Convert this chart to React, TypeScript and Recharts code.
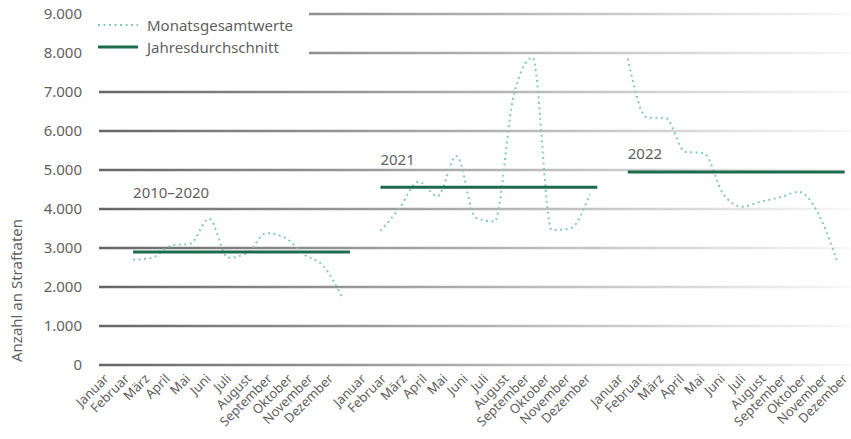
import { Legend, Line, LineChart, CartesianGrid, ReferenceDot, XAxis, YAxis } from "recharts";

const months = ["Januar", "Februar", "März", "April", "Mai", "Juni", "Juli", "August", "September", "Oktober", "November", "Dezember"];
const periods = ["2010–2020", "2021", "2022"];

// monthly totals per period
const monthly2010to2020 = [2700, 2750, 3060, 3110, 3750, 2750, 2870, 3380, 3260, 2830, 2540, 1730];
const monthly2021 = [3440, 4020, 4700, 4330, 5360, 3780, 3680, 6900, 7880, 3460, 3510, 4380];
const monthly2022 = [7860, 6350, 6330, 5470, 5430, 4400, 4060, 4190, 4300, 4440, 3890, 2670];
const yearlyAverages = [2900, 4560, 4950];
const labelLevels = [4280, 5130, 5280];

const yTicks = [0, 1000, 2000, 3000, 4000, 5000, 6000, 7000, 8000, 9000];

const GAP = 1; // empty slot between periods on the data axis
const LABEL_GAP = 0.6; // extra space between periods on the label axis
const AVG_SPAN = 11.4;

const textColor = "#5f5f5f";
const dotted = "#82ccae";
const dark = "#1c6b4b";
const font = "'Noto Sans', sans-serif";

const blocks = [monthly2010to2020, monthly2021, monthly2022].map((values, b) =>
  values.map((v, m) => ({ x: b * (12 + GAP) + m, value: v }))
);
const averages = yearlyAverages.map((v, b) => [
  { x: b * (12 + GAP), value: v },
  { x: b * (12 + GAP) + AVG_SPAN, value: v },
]);
const monthTicks = periods.flatMap((_, b) => months.map((_, m) => b * (12 + LABEL_GAP) + m));
const tickRows = monthTicks.map((x) => ({ x, value: 0 }));

const fmt = (v: number) => v.toLocaleString("de-DE");

function MonthTick(props: any) {
  const { x, y, payload } = props;
  const i = monthTicks.indexOf(payload.value);
  return (
    <text
      x={x}
      y={y}
      dy="0.71em"
      textAnchor="end"
      transform={`rotate(-45, ${x}, ${y})`}
      fill={textColor}
      fontSize={13}
      fontFamily={font}
    >
      {months[i % 12]}
    </text>
  );
}

function LegendBox() {
  return (
    <div style={{ background: "#fff", width: 212, height: 52, fontFamily: font, fontSize: 15, color: textColor }}>
      <div style={{ display: "flex", alignItems: "center", height: 22, paddingTop: 8 }}>
        <svg width={42} height={6}>
          <line x1={1} y1={3} x2={41} y2={3} stroke={dotted} strokeWidth={2} strokeDasharray="2 3.5" />
        </svg>
        <span style={{ marginLeft: 8 }}>Monatsgesamtwerte</span>
      </div>
      <div style={{ display: "flex", alignItems: "center", height: 22 }}>
        <svg width={42} height={6}>
          <line x1={1} y1={3} x2={41} y2={3} stroke={dark} strokeWidth={3} />
        </svg>
        <span style={{ marginLeft: 8 }}>Jahresdurchschnitt</span>
      </div>
    </div>
  );
}

export default function App() {
  return (
    <div style={{ width: 851, height: 439, position: "relative" }}>
      <style>{`body{margin:0}`}</style>
      <LineChart width={851} height={439} margin={{ top: 14, right: 1, left: 0, bottom: 0 }}>
        <defs>
          <linearGradient id="gridFade" gradientUnits="userSpaceOnUse" x1={99} y1={0} x2={850} y2={0}>
            <stop offset="0%" stopColor="#666666" />
            <stop offset="100%" stopColor="#f8f8f8" />
          </linearGradient>
        </defs>
        <CartesianGrid vertical={false} stroke="url(#gridFade)" strokeWidth={2.5} xAxisId="d" />
        <XAxis
          xAxisId="labels"
          type="number"
          dataKey="x"
          domain={[-0.2, 36.6]}
          ticks={monthTicks}
          interval={0}
          height={74}
          axisLine={false}
          tickLine={false}
          tick={<MonthTick />}
          allowDataOverflow
        />
        <XAxis xAxisId="d" type="number" dataKey="x" domain={[-1.79, 37.68]} height={0} hide allowDataOverflow />
        <YAxis
          domain={[0, 9000]}
          ticks={yTicks}
          tickFormatter={fmt}
          width={99}
          axisLine={false}
          tickLine={false}
          tickMargin={11}
          tick={{ fill: textColor, fontSize: 15, fontFamily: font }}
          label={{
            content: () => (
              <text x={22} y={362} transform="rotate(-90, 22, 362)" fill={textColor} fontSize={15} fontFamily={font}>
                Anzahl an Straftaten
              </text>
            ),
          }}
        />
        <Line
          xAxisId="labels"
          data={tickRows}
          dataKey="value"
          stroke="none"
          dot={false}
          activeDot={false}
          isAnimationActive={false}
          legendType="none"
        />
        {blocks.map((data, b) => (
          <Line
            key={`m${b}`}
            xAxisId="d"
            data={data}
            dataKey="value"
            type="monotone"
            stroke={dotted}
            strokeWidth={2}
            strokeDasharray="2 3.5"
            dot={false}
            activeDot={false}
            isAnimationActive={false}
            legendType="none"
          />
        ))}
        {averages.map((data, b) => (
          <Line
            key={`a${b}`}
            xAxisId="d"
            data={data}
            dataKey="value"
            stroke={dark}
            strokeWidth={3}
            dot={false}
            activeDot={false}
            isAnimationActive={false}
            legendType="none"
          />
        ))}
        {periods.map((p, b) => (
          <ReferenceDot
            key={p}
            xAxisId="d"
            x={b * (12 + GAP)}
            y={labelLevels[b]}
            r={0}
            label={{
              content: (props: any) => (
                <text x={props.viewBox.x} y={props.viewBox.y} fill={textColor} fontSize={15} fontFamily={font}>
                  {p}
                </text>
              ),
            }}
          />
        ))}
        <Legend
          layout="vertical"
          align="center"
          verticalAlign="middle"
          content={() => <LegendBox />}
          wrapperStyle={{ position: "absolute", top: 6, left: 97, width: 212, height: 52 }}
        />
      </LineChart>
    </div>
  );
}
